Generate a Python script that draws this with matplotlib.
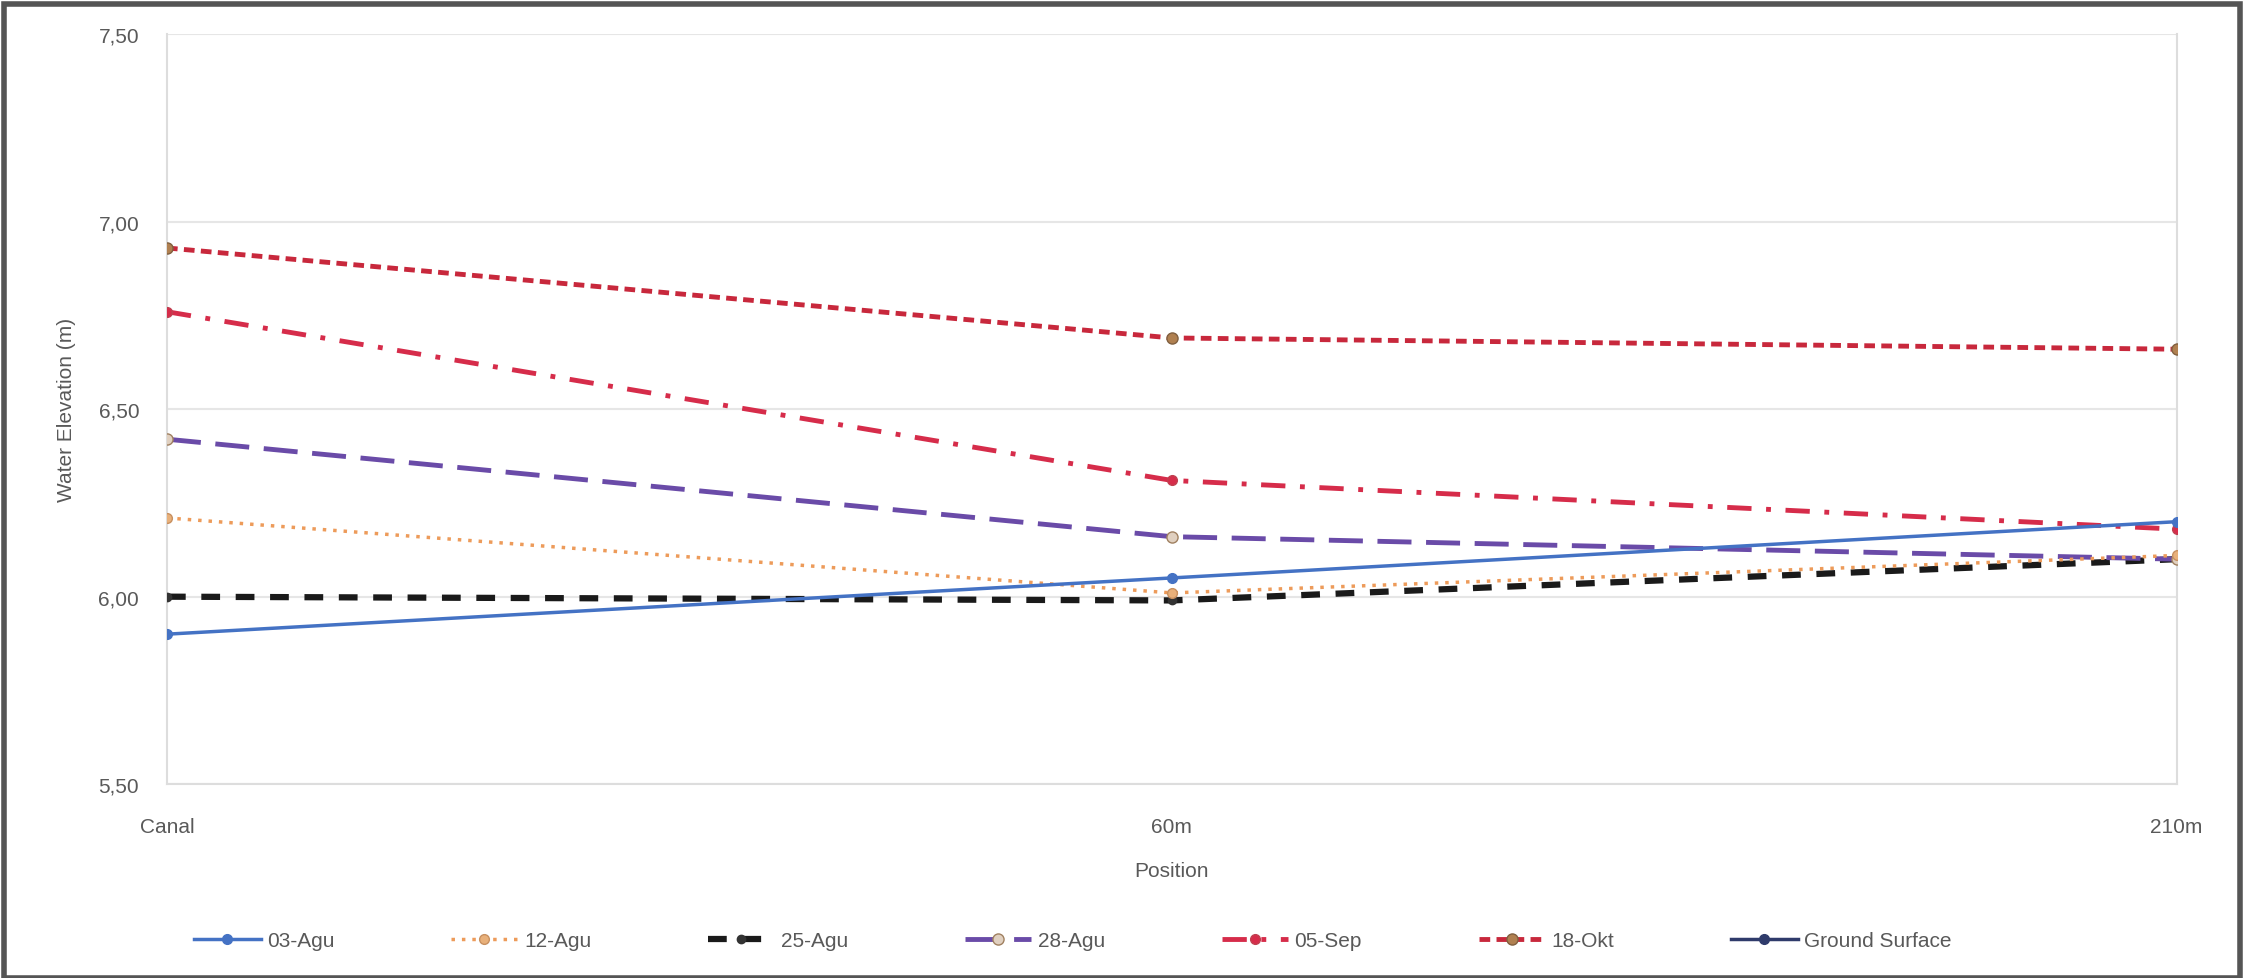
import matplotlib
matplotlib.use("Agg")
import matplotlib.pyplot as plt
from matplotlib.lines import Line2D
from matplotlib.patches import Rectangle

positions = ["Canal", "60m", "210m"]
agu03 = [5.90, 6.05, 6.20]
agu12 = [6.21, 6.01, 6.11]
agu25 = [6.00, 5.99, 6.10]
agu28 = [6.42, 6.16, 6.10]
sep05 = [6.76, 6.31, 6.18]
okt18 = [6.93, 6.69, 6.66]
y_ticks = [5.50, 6.00, 6.50, 7.00, 7.50]
y_tick_labels = ["5,50", "6,00", "6,50", "7,00", "7,50"]

plt.rcParams['font.family'] = ['Liberation Sans', 'DejaVu Sans']
fig = plt.figure(figsize=(22.44, 9.79), dpi=100)
ax = fig.add_axes([0.0744, 0.198, 0.8956, 0.766])

x = list(range(len(positions)))
txt = "#595959"

ax.plot(x, agu03, color="#4472C4", lw=2.5, ls="-", marker="o", ms=7, mfc="#4472C4", mec="#4472C4", label="03-Agu", zorder=6)
ax.plot(x, agu12, color="#ED9B5A", lw=2.5, ls=(0, (1, 2)), marker="o", ms=7, mfc="#E8B07A", mec="#C89060", label="12-Agu", zorder=5)
ax.plot(x, agu25, color="#1A1A1A", lw=4.5, ls=(0, (3, 2.5)), marker="o", ms=6, mfc="#333333", mec="#333333", label="25-Agu", zorder=4)
ax.plot(x, agu28, color="#6A4BA8", lw=3.5, ls=(0, (7, 3)), marker="o", ms=8, mfc="#E0D0C0", mec="#A08060", label="28-Agu", zorder=4)
ax.plot(x, sep05, color="#D62C4A", lw=3.5, ls=(0, (5, 3, 1, 3)), marker="o", ms=7, mfc="#D62C4A", mec="#C04050", label="05-Sep", zorder=4)
ax.plot(x, okt18, color="#C8283C", lw=3.5, ls=(0, (2.2, 1.3)), marker="o", ms=8, mfc="#B08050", mec="#806040", label="18-Okt", zorder=4)

ax.set_xlim(0, 2)
ax.set_ylim(5.5, 7.5)
ax.set_yticks(y_ticks)
ax.set_yticklabels(y_tick_labels)
ax.set_xticks(x)
ax.set_xticklabels(positions)
ax.tick_params(axis="both", length=0, labelsize=15, colors=txt)
ax.tick_params(axis="y", pad=20)
ax.tick_params(axis="x", pad=24)
ax.grid(axis="y", color="#E6E6E6", lw=1.5)
ax.spines["top"].set_visible(False)
for s in ["left", "right", "bottom"]:
    ax.spines[s].set_color("#DDDDDD")
    ax.spines[s].set_linewidth(1.5)

ax.set_xlabel("Position", fontsize=15, color=txt, labelpad=18)
ax.set_ylabel("Water Elevation (m)", fontsize=15, color=txt, labelpad=16)

handles, labels = ax.get_legend_handles_labels()
handles.append(Line2D([], [], color="#2F3B6B", lw=2.5, marker="o", ms=7, mfc="#2F3B6B", mec="#2F3B6B"))
labels.append("Ground Surface")
leg = fig.legend(handles, labels, loc="center", bbox_to_anchor=(0.478, 0.038), ncol=7,
                 frameon=False, fontsize=15, handlelength=3.2, columnspacing=5.6, handletextpad=0.3)
for t in leg.get_texts():
    t.set_color(txt)

fig.patches.append(Rectangle((0.002, 0.0), 0.996, 0.995, transform=fig.transFigure,
                             fill=False, ec="#555555", lw=4))

fig.savefig("out.png", dpi=100)
